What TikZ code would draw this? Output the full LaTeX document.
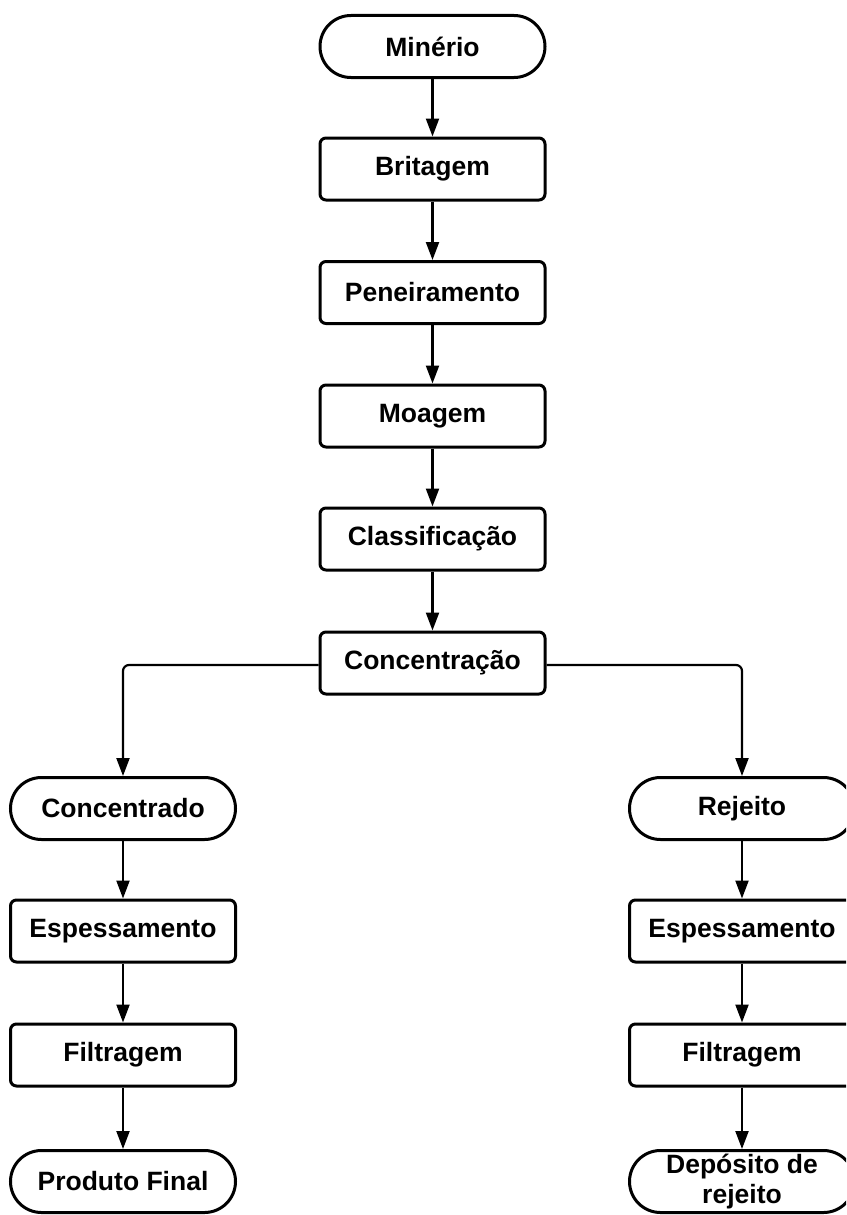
\documentclass[tikz,border=0pt]{standalone}
\usepackage{fontspec}
\setmainfont{Liberation Sans}
\usetikzlibrary{arrows.meta}
\begin{document}
\begin{tikzpicture}[x=1pt,y=-1pt,
  base/.style={draw=black, line width=3pt, fill=white,
    minimum width=225pt, minimum height=62pt, inner sep=2pt,
    align=center, font=\fontsize{26.5}{31}\selectfont\bfseries},
  procbox/.style={base, rounded corners=6pt},
  termbox/.style={base, rounded corners=31pt},
  flow/.style={line width=2.2pt, -{Triangle[length=18pt,width=13pt]}},
  branch/.style={flow, rounded corners=6pt}]
  \useasboundingbox (0,0) rectangle (846,1215);
  \clip (0,0) rectangle (846,1215);

  % main column
  \node[termbox] (min) at (432.5,46.5) {Minério};
  \node[procbox] (bri) at (432.5,169) {Britagem};
  \node[procbox] (pen) at (432.5,292.5) {Peneiramento};
  \node[procbox] (moa) at (432.5,416) {Moagem};
  \node[procbox] (cla) at (432.5,539) {Classificação};
  \node[procbox] (con) at (432.5,663) {Concentração};

  % concentrate branch
  \node[termbox] (cdo) at (123,808.5) {Concentrado};
  \node[procbox] (esl) at (123,931) {Espessamento};
  \node[procbox] (fil) at (123,1055) {Filtragem};
  \node[termbox] (prf) at (123,1181.5) {Produto Final};

  % tailings branch
  \node[termbox] (rej) at (742,808.5) {Rejeito};
  \node[procbox] (esr) at (742,931) {Espessamento};
  \node[procbox] (fir) at (742,1055) {Filtragem};
  \node[termbox, font=\fontsize{26.5}{30}\selectfont\bfseries] (dep) at (742,1181.5) {Depósito de\\rejeito};

  \draw[flow] (min) -- (bri);
  \draw[flow] (bri) -- (pen);
  \draw[flow] (pen) -- (moa);
  \draw[flow] (moa) -- (cla);
  \draw[flow] (cla) -- (con);

  \draw[branch] (con.west |- 0,665) -| (cdo.north);
  \draw[branch] (con.east |- 0,665) -| (rej.north);

  \draw[flow] (cdo) -- (esl);
  \draw[flow] (esl) -- (fil);
  \draw[flow] (fil) -- (prf);

  \draw[flow] (rej) -- (esr);
  \draw[flow] (esr) -- (fir);
  \draw[flow] (fir) -- (dep);
\end{tikzpicture}
\end{document}
